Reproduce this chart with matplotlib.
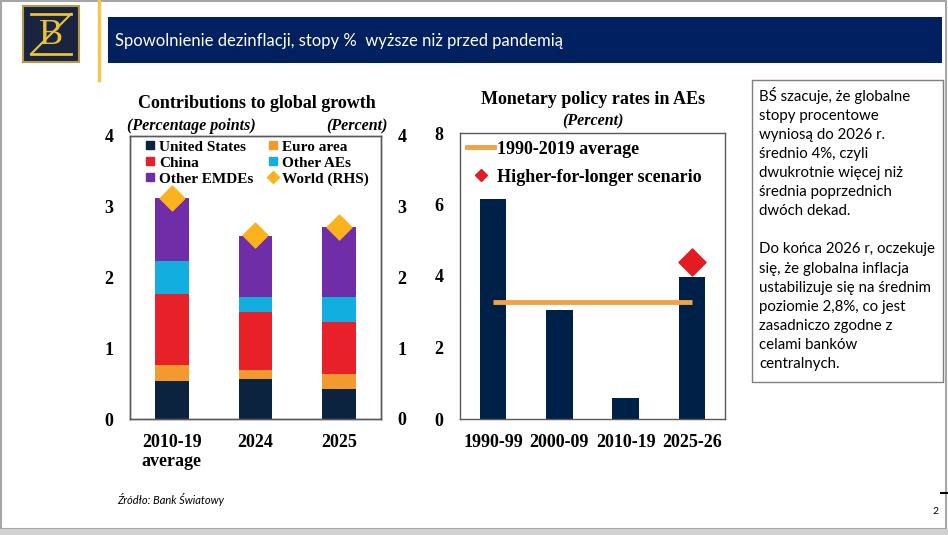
import numpy as np
import matplotlib.pyplot as plt
from matplotlib.lines import Line2D
from matplotlib.patches import Rectangle

# dane - wykres lewy (wklad do wzrostu globalnego, pp)
okresy_l = ['2010-19\naverage', '2024', '2025']
usa = [0.54, 0.56, 0.42]
strefa_euro = [0.23, 0.13, 0.21]
chiny = [0.99, 0.82, 0.74]
inne_ae = [0.47, 0.21, 0.35]
inne_emde = [0.90, 0.87, 1.00]
swiat = [3.13, 2.60, 2.72]

# dane - wykres prawy (stopy w AEs, %)
okresy_p = ['1990-99', '2000-09', '2010-19', '2025-26']
stopy = [6.15, 3.04, 0.58, 3.98]
srednia_1990_2019 = 3.26
scenariusz = 4.40

W, H = 948, 535
fig = plt.figure(figsize=(W / 100, H / 100), dpi=100)
fig.patch.set_facecolor('white')

def fx(x):
    return x / W

def fy(y):
    return 1 - y / H

serif = 'Liberation Serif'
sans = 'Lato'

# ramka slajdu
fig.add_artist(Rectangle((fx(1), fy(529)), fx(945), 528 / H, transform=fig.transFigure,
                         fill=False, ec='#a6a6a6', lw=1.5))
fig.add_artist(Rectangle((0, 0), 1, 6 / H, transform=fig.transFigure,
                         fc='#d0d0d0', ec='none'))

# logo
fig.add_artist(Rectangle((fx(23), fy(62)), fx(56), 56 / H, transform=fig.transFigure,
                         fc='#1a2340', ec='#b39a4a', lw=1.5))
fig.add_artist(Line2D([fx(31), fx(71)], [fy(14), fy(14)], transform=fig.transFigure,
                      color='#e8c33a', lw=2))
fig.add_artist(Line2D([fx(71), fx(31)], [fy(14), fy(54)], transform=fig.transFigure,
                      color='#e8c33a', lw=1.5))
fig.add_artist(Line2D([fx(31), fx(71)], [fy(54), fy(54)], transform=fig.transFigure,
                      color='#e8c33a', lw=2))
fig.text(fx(51), fy(35), 'B', color='#e8c33a', fontsize=26, family=serif,
         ha='center', va='center')

# pionowa zolta linia i belka tytulowa
fig.add_artist(Line2D([fx(99), fx(99)], [fy(0), fy(80)], transform=fig.transFigure,
                      color='#f2c94c', lw=2.5))
fig.add_artist(Rectangle((fx(108), fy(63)), fx(834), 46 / H, transform=fig.transFigure,
                         fc='#002060', ec='none'))
fig.text(fx(115), fy(41), 'Spowolnienie dezinflacji, stopy %  wyższe niż przed pandemią',
         color='white', fontsize=12, family=sans, va='center')

# kolory
c_usa = '#0c2340'
c_euro = '#f39a2e'
c_chiny = '#e8202a'
c_ae = '#12aee0'
c_emde = '#6f2da8'
c_swiat = '#fbb21c'

# --- wykres lewy ---
ax1 = fig.add_axes([fx(130), fy(419), fx(251), 283 / H])
x1 = np.arange(len(okresy_l))
szer = 0.4
dol = np.zeros(len(okresy_l))
for vals, col, lab in [(usa, c_usa, 'United States'), (strefa_euro, c_euro, 'Euro area'),
                       (chiny, c_chiny, 'China'), (inne_ae, c_ae, 'Other AEs'),
                       (inne_emde, c_emde, 'Other EMDEs')]:
    ax1.bar(x1, vals, szer, bottom=dol, color=col, label=lab)
    dol = dol + np.array(vals)
ax1.set_xlim(-0.5, 2.5)
ax1.set_ylim(0, 4)
ax1.set_yticks([0, 1, 2, 3, 4])
ax1.set_xticks(x1)
ax1.set_xticklabels(okresy_l, fontsize=13, family=serif, weight='bold')
ax1.tick_params(length=0, pad=12)
ax1.tick_params(axis='x', pad=11)
for t in ax1.get_yticklabels():
    t.set_family(serif); t.set_weight('bold'); t.set_fontsize(13)
for s in ax1.spines.values():
    s.set_color('#595959'); s.set_linewidth(1)
for t in ax1.get_xticklabels():
    t.set_linespacing(1.1)

ax1b = ax1.twinx()
ax1b.scatter(x1, swiat, marker='D', s=160, color=c_swiat, zorder=5, label='World (RHS)')
ax1b.set_ylim(0, 4)
ax1b.set_yticks([0, 1, 2, 3, 4])
ax1b.tick_params(length=0, pad=12)
for t in ax1b.get_yticklabels():
    t.set_family(serif); t.set_weight('bold'); t.set_fontsize(13)
for s in ax1b.spines.values():
    s.set_color('#595959'); s.set_linewidth(1)

uchwyty = [
    Line2D([], [], marker='s', ls='none', color=c_usa, ms=6),
    Line2D([], [], marker='s', ls='none', color=c_chiny, ms=6),
    Line2D([], [], marker='s', ls='none', color=c_emde, ms=6),
    Line2D([], [], marker='s', ls='none', color=c_euro, ms=6),
    Line2D([], [], marker='s', ls='none', color=c_ae, ms=6),
    Line2D([], [], marker='D', ls='none', color=c_swiat, ms=6),
]
etykiety = ['United States', 'China', 'Other EMDEs', 'Euro area', 'Other AEs', 'World (RHS)']
ax1b.legend(uchwyty, etykiety, ncol=2, loc='upper left', bbox_to_anchor=(0.005, 1.035),
            frameon=False, handlelength=0.6, handletextpad=0.3, columnspacing=1.0,
            labelspacing=0.15, prop={'family': serif, 'weight': 'bold', 'size': 11})

fig.text(fx(257), fy(104), 'Contributions to global growth', fontsize=13, family=serif,
         weight='bold', ha='center', va='center')
fig.text(fx(127), fy(126), '(Percentage points)', fontsize=11.5, family=serif,
         weight='bold', style='italic', va='center')
fig.text(fx(388), fy(126), '(Percent)', fontsize=11.5, family=serif,
         weight='bold', style='italic', va='center', ha='right')

# --- wykres prawy ---
ax2 = fig.add_axes([fx(460), fy(419), fx(265), 286 / H])
x2 = np.arange(len(okresy_p))
ax2.bar(x2, stopy, 0.4, color='#002147')
ax2.plot([x2[0], x2[-1]], [srednia_1990_2019, srednia_1990_2019], color='#f2a244', lw=3.5,
         solid_capstyle='butt', label='1990-2019 average')
ax2.scatter([x2[-1]], [scenariusz], marker='D', s=190, color='#e31b23', zorder=5,
            label='Higher-for-longer scenario')
ax2.set_xlim(-0.5, 3.5)
ax2.set_ylim(0, 8)
ax2.set_yticks([0, 2, 4, 6, 8])
ax2.set_xticks(x2)
ax2.set_xticklabels(okresy_p, fontsize=13, family=serif, weight='bold')
ax2.tick_params(length=0, pad=12)
ax2.tick_params(axis='x', pad=11)
for t in ax2.get_yticklabels():
    t.set_family(serif); t.set_weight('bold'); t.set_fontsize(13)
for s in ax2.spines.values():
    s.set_color('#595959'); s.set_linewidth(1)
ax2.legend(handles=[Line2D([], [], color='#f2a244', lw=3.5),
                    Line2D([], [], marker='D', ls='none', color='#e31b23', ms=6)],
           labels=['1990-2019 average', 'Higher-for-longer scenario'],
           loc='upper left', bbox_to_anchor=(-0.035, 1.03), frameon=False,
           handlelength=1.5, handletextpad=0.15, labelspacing=0.6,
           prop={'family': serif, 'weight': 'bold', 'size': 13})

fig.text(fx(593), fy(100), 'Monetary policy rates in AEs', fontsize=13, family=serif,
         weight='bold', ha='center', va='center')
fig.text(fx(593), fy(121), '(Percent)', fontsize=11.5, family=serif,
         weight='bold', style='italic', va='center', ha='center')

# --- pole tekstowe ---
fig.add_artist(Rectangle((fx(752), fy(382)), fx(191), 302 / H, transform=fig.transFigure,
                         fill=False, ec='#7f7f7f', lw=1))
opis = ('BŚ szacuje, że globalne\nstopy procentowe\nwyniosą do 2026 r.\nśrednio 4%, czyli\n'
        'dwukrotnie więcej niż\nśrednia poprzednich\ndwóch dekad.\n\n'
        'Do końca 2026 r, oczekuje\nsię, że globalna inflacja\nustabilizuje się na średnim\n'
        'poziomie 2,8%, co jest\nzasadniczo zgodne z\ncelami banków\ncentralnych.')
fig.text(fx(759), fy(87), opis, fontsize=10.8, family=sans, va='top', ha='left',
         linespacing=1.46)

# stopka
fig.text(fx(117), fy(500), 'Źródło: Bank Światowy', fontsize=8, family=sans,
         style='italic', va='center')
fig.text(fx(932), fy(512), '2', fontsize=7.5, family=sans, va='center')
fig.add_artist(Line2D([fx(941), fx(948)], [fy(493), fy(493)], transform=fig.transFigure,
                      color='black', lw=1.5))

fig.savefig('out.png', dpi=100)
